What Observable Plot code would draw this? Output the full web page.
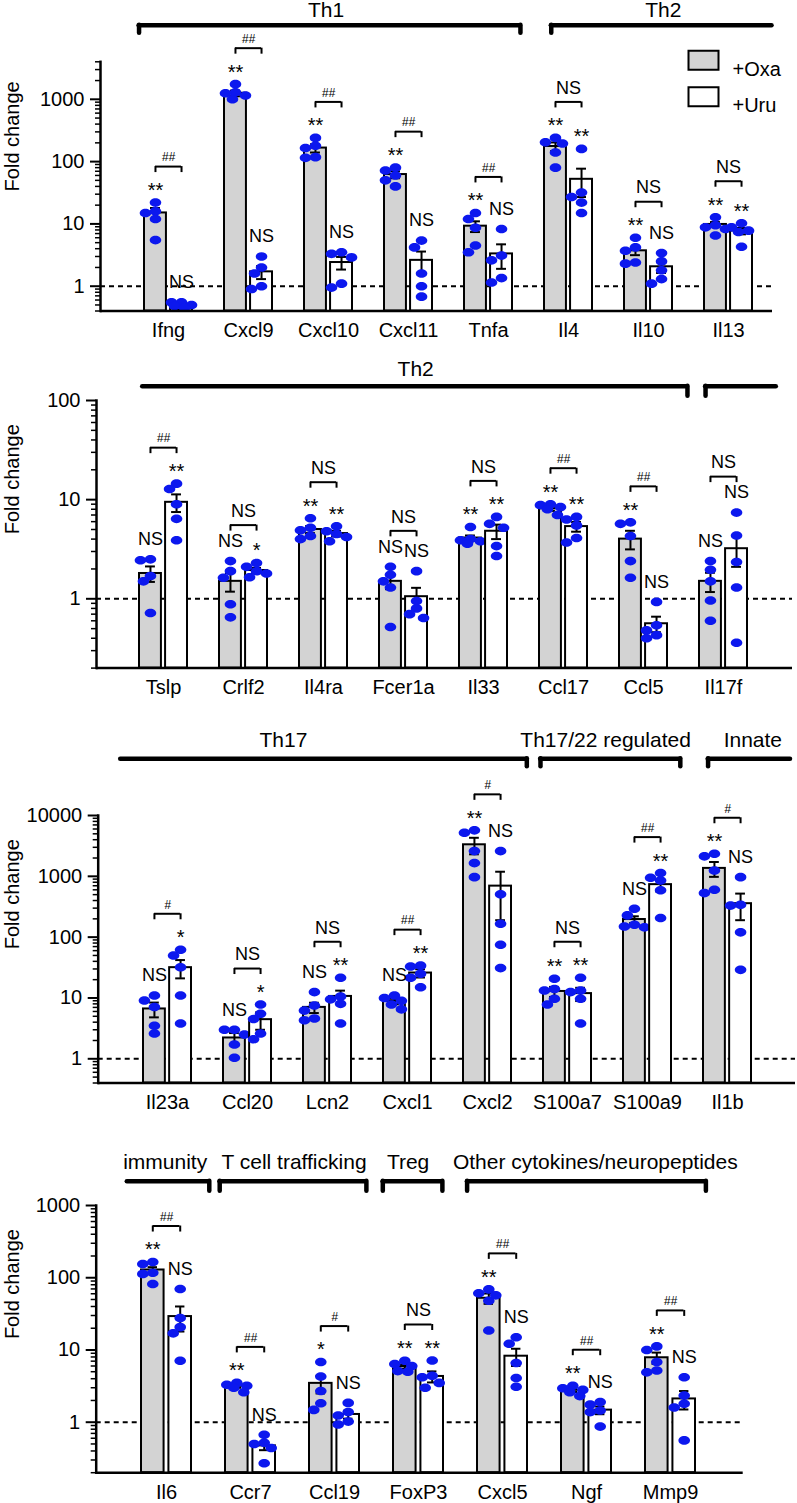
<!DOCTYPE html>
<html><head><meta charset="utf-8">
<script src="https://cdn.jsdelivr.net/npm/d3@7"></script>
<script src="https://cdn.jsdelivr.net/npm/@observablehq/plot@0.6"></script>
<style>
body{margin:0;background:#fff;}
#chart{width:797px;}
#chart svg{display:block;}
</style></head><body><div id="chart"></div>
<script>
// ---------------- Panel 1 ----------------
const genes1 = ["Ifng","Cxcl9","Cxcl10","Cxcl11","Tnfa","Il4","Il10","Il13"];
const oxaMean1 = [15, 1250, 165, 62, 9.2, 175, 3.7, 9.8];
const oxaSem1 = [3, 130, 25, 8, 1.8, 28, 0.55, 0.9];
const uruMean1 = [0.46, 1.7, 2.4, 2.6, 3.3, 52, 2.05, 7.7];
const uruSem1 = [0.04, 0.4, 0.55, 1.0, 1.4, 25, 0.42, 0.9];
const oxaDots1 = [[22,16,15,12,5.5],[1750,1300,1250,1150,1000],[240,180,165,118,115],[80,72,60,50,40],[15,12,8.7,4.5,3.5],[240,205,195,140,80],[6.0,4.2,3.7,2.4,2.3],[12.8,9.5,8.8,8.3,6.5]];
const uruDots1 = [[0.55,0.55,0.5,0.48,0.45],[3.0,2.0,1.6,1.0,0.9],[3.5,3.3,2.9,1.1,0.95],[5.4,4.2,1.6,1.0,0.68],[8.3,3.1,2.6,1.35,1.15],[160,32,27,22,15],[3.4,2.5,1.8,1.3,1.1],[10.2,8.8,7.8,7.4,4.3]];
const oxaSig1 = ["**","**","**","**","**","**","**","**"];
const uruSig1 = ["NS","NS","NS","NS","NS","**","NS","**"];
const pairSig1 = ["##","##","##","##","##","NS","NS","NS"];
const headers1 = [{label:"Th1", from:"Ifng", to:"Tnfa"},{label:"Th2", from:"Il4", to:"Il13"}];

// ---------------- Panel 2 ----------------
const genes2 = ["Tslp","Crlf2","Il4ra","Fcer1a","Il33","Ccl17","Ccl5","Il17f"];
const oxaMean2 = [1.8, 1.5, 5.0, 1.5, 4.1, 8.1, 4.0, 1.5];
const oxaSem2 = [0.32, 0.32, 0.4, 0.25, 0.25, 0.4, 0.85, 0.33];
const uruMean2 = [9.4, 1.93, 4.55, 1.05, 4.8, 5.35, 0.56, 3.2];
const uruSem2 = [1.9, 0.12, 0.3, 0.24, 0.8, 0.6, 0.1, 1.1];
const oxaDots2 = [[2.5,2.45,1.7,1.5,0.72],[2.4,1.9,1.63,0.88,0.65],[6.5,5.2,4.9,4.3,4.0],[2.1,1.75,1.5,1.3,0.52],[5.3,4.0,3.9,3.8,3.6],[9.0,8.8,8.4,8.0,7.0],[5.9,5.7,4.3,2.4,1.63],[2.4,1.96,1.5,0.96,0.6]];
const uruDots2 = [[14.5,12.8,9.0,6.4,3.9],[2.3,2.1,1.9,1.8,1.65],[5.4,4.8,4.5,4.2,3.8],[1.9,0.95,0.8,0.7,0.64],[6.7,5.7,5.2,3.4,2.7],[6.7,6.3,5.5,4.1,3.7],[0.93,0.54,0.48,0.43,0.4],[7.4,4.35,2.35,1.3,0.36]];
const oxaSig2 = ["NS","NS","**","NS","**","**","**","NS"];
const uruSig2 = ["**","*","**","NS","**","**","NS","NS"];
const pairSig2 = ["##","NS","NS","NS","NS","##","##","NS"];
const headers2 = [{label:"Th2", from:"Tslp", to:"Ccl5"},{label:"", from:"Il17f", to:"Il17f"}];

// ---------------- Panel 3 ----------------
const genes3 = ["Il23a","Ccl20","Lcn2","Cxcl1","Cxcl2","S100a7","S100a9","Il1b"];
const oxaMean3 = [6.6, 2.2, 7.0, 8.8, 3300, 12.8, 195, 1350];
const oxaSem3 = [1.8, 0.45, 1.35, 0.9, 1000, 2.4, 25, 370];
const uruMean3 = [31.5, 4.4, 10.6, 25.7, 690, 11.8, 730, 355];
const uruSem3 = [10.5, 1.4, 2.6, 4, 500, 2.9, 165, 165];
const oxaDots3 = [[11,9.1,7.1,3.5,2.6],[3.0,3.0,2.5,1.72,1.04],[12.5,7.5,6.2,4.6,4.3],[11,10,9,7.8,6.5],[5700,5200,2600,1650,970],[20.7,14,13.3,9.7,7.8],[293,228,160,150,145],[2350,2130,1250,600,530]];
const uruDots3 = [[62,50,32,11,3.8],[7.8,5.5,4.5,2.6,2.1],[21.5,10.6,9.5,8.0,3.8],[34,33,25,21.5,15],[2600,505,166,75,31],[21.5,13.3,12.5,9.7,3.8],[1130,950,850,590,206],[970,340,330,120,29]];
const oxaSig3 = ["NS","NS","NS","NS","**","**","NS","**"];
const uruSig3 = ["*","*","**","**","NS","**","**","NS"];
const pairSig3 = ["#","NS","NS","##","#","NS","##","#"];
const headers3 = [{label:"Th17", from:"Il23a", to:"Cxcl2"},{label:"Th17/22 regulated", from:"S100a7", to:"S100a9"},{label:"Innate", from:"Il1b", to:"Il1b"}];

// ---------------- Panel 4 ----------------
const genes4 = ["Il6","Ccr7","Ccl19","FoxP3","Cxcl5","Ngf","Mmp9"];
const oxaMean4 = [128, 3.15, 3.45, 5.9, 52, 2.77, 7.8];
const oxaSem4 = [12, 0.15, 0.95, 0.4, 8.5, 0.15, 1.4];
const uruMean4 = [29, 0.47, 1.28, 4.3, 8.2, 1.47, 2.1];
const uruSem4 = [11, 0.06, 0.16, 0.75, 2.2, 0.18, 0.6];
const oxaDots4 = [[165,155,117,113,82],[3.5,3.3,3.2,3.0,2.6],[6.8,4.3,2.7,1.83,1.48],[7.1,6.4,6.0,5.1,5.0],[69,61,57,48,18.6],[3.2,2.95,2.8,2.6,2.3],[11.2,10,6.8,5.2,4.9]];
const uruDots4 = [[70,27.6,20.7,17,7.1],[0.67,0.52,0.5,0.44,0.27],[1.85,1.38,1.24,1.02,0.93],[7.15,4.4,4.2,3.5,3.0],[15,12.2,6.6,4.1,3.1],[1.9,1.75,1.45,1.38,0.87],[4.2,2.34,1.8,1.6,0.56]];
const oxaSig4 = ["**","**","*","**","**","**","**"];
const uruSig4 = ["NS","NS","NS","**","NS","NS","NS"];
const pairSig4 = ["##","##","#","NS","##","##","##"];
const headers4 = [{label:"immunity", from:"Il6", to:"Il6"},{label:"T cell trafficking", from:"Ccr7", to:"Ccl19"},{label:"Treg", from:"FoxP3", to:"FoxP3"},{label:"Other cytokines/neuropeptides", from:"Cxcl5", to:"Mmp9"}];

const legendLabels = ["+Oxa", "+Uru"];
const yLabel = "Fold change";

// ---------------- layout / style ----------------
const FONT = "'Liberation Sans', Arial, Helvetica, sans-serif";
const BLUE = "#0c18ee";
const GREY = "#d3d3d3";

const layouts = [
  {height:345, marginTop:61.3, marginBottom:34.5, marginLeft:100, marginRight:25, xRange:[127.4,768.6], yDomain:[0.4,4000],
   headLineDy:-36.6, headTextDy:-51.5, headTick:8, labelDy:5,
   heads:[{extL:5.4, extR:7.9, tickL:true, tickR:true, shift:-4},{extL:-6.8, extR:19.5, tickL:true, tickR:false, shift:1.5}]},
  {height:360, marginTop:55, marginBottom:37.4, marginLeft:96, marginRight:5, xRange:[122.4,764.0], yDomain:[0.2,100],
   headLineDy:-14.3, headTextDy:-31, headTick:10, labelDy:0,
   heads:[{extL:-3.2, extR:19.9, tickL:false, tickR:true, shift:0},{extL:-6.1, extR:28.8, tickL:true, tickR:false, shift:0}]},
  {height:410, marginTop:110, marginBottom:32.5, marginLeft:97.7, marginRight:2, xRange:[125.6,768.7], yDomain:[0.4,10000],
   headLineDy:-56.7, headTextDy:-75, headTick:8, labelDy:0,
   heads:[{extL:22.8, extR:15.2, tickL:false, tickR:true, shift:-41},{extL:2.9, extR:8.7, tickL:true, tickR:true, shift:-5},{extL:-4.7, extR:39, tickL:true, tickR:false, shift:3.5}]},
  {height:388, marginTop:90, marginBottom:30.8, marginLeft:95.7, marginRight:54.3, xRange:[123.3,713.5], yDomain:[0.2,1000],
   headLineDy:-24.3, headTextDy:-43.3, headTick:10, labelDy:0,
   heads:[{extL:14.2, extR:17.5, tickL:false, tickR:true, shift:-3},{extL:5.5, extR:6.6, tickL:true, tickR:true, shift:0.8},{extL:10.4, extR:-1.4, tickL:true, tickR:true, shift:-4.5},{extL:10.1, extR:10.1, tickL:true, tickR:true, shift:8.5}]}
];

const panels = [
  {genes:genes1, oxaMean:oxaMean1, oxaSem:oxaSem1, uruMean:uruMean1, uruSem:uruSem1, oxaDots:oxaDots1, uruDots:uruDots1, oxaSig:oxaSig1, uruSig:uruSig1, pairSig:pairSig1, headers:headers1, legend:true},
  {genes:genes2, oxaMean:oxaMean2, oxaSem:oxaSem2, uruMean:uruMean2, uruSem:uruSem2, oxaDots:oxaDots2, uruDots:uruDots2, oxaSig:oxaSig2, uruSig:uruSig2, pairSig:pairSig2, headers:headers2},
  {genes:genes3, oxaMean:oxaMean3, oxaSem:oxaSem3, uruMean:uruMean3, uruSem:uruSem3, oxaDots:oxaDots3, uruDots:uruDots3, oxaSig:oxaSig3, uruSig:uruSig3, pairSig:pairSig3, headers:headers3},
  {genes:genes4, oxaMean:oxaMean4, oxaSem:oxaSem4, uruMean:uruMean4, uruSem:uruSem4, oxaDots:oxaDots4, uruDots:uruDots4, oxaSig:oxaSig4, uruSig:uruSig4, pairSig:pairSig4, headers:headers4}
];

// custom symbols
const RX = 5.8, RY = 4.3;
const ellipseSym = {draw(ctx) {
  const k = 0.5523;
  ctx.moveTo(RX, 0);
  ctx.bezierCurveTo(RX, RY*k, RX*k, RY, 0, RY);
  ctx.bezierCurveTo(-RX*k, RY, -RX, RY*k, -RX, 0);
  ctx.bezierCurveTo(-RX, -RY*k, -RX*k, -RY, 0, -RY);
  ctx.bezierCurveTo(RX*k, -RY, RX, -RY*k, RX, 0);
  ctx.closePath();
}};
const rectSym = {draw(ctx) { ctx.rect(-15, -9.5, 30, 19); }};

// deterministic scatter spreading (avoid stacking of dots)
function spreadDots(vals, pxd) {
  const sorted = vals.slice().sort((a, b) => b - a);
  const placed = [];
  const cands = [0, -7, 7, -10, 10, -3, 3];
  for (const v of sorted) {
    const py = -Math.log10(v) * pxd;
    let best = 0, bestScore = -Infinity;
    for (const c of cands) {
      let m = Infinity;
      for (const q of placed) m = Math.min(m, Math.hypot((c - q.j) / (2*RX), (py - q.py) / (2*RY)));
      if (m >= 0.85) { best = c; bestScore = m; break; }
      if (m > bestScore) { bestScore = m; best = c; }
    }
    placed.push({v, j: best, py});
  }
  return placed;
}

function minorTicks(domain) {
  const out = [];
  for (let e = -2; e <= 5; e++) for (let m = 1; m <= 9; m++) {
    const v = m * Math.pow(10, e);
    if (m !== 1 && v >= domain[0] - 1e-9 && v <= domain[1] + 1e-9) out.push(v);
  }
  return out;
}
function majorTicks(domain) {
  const out = [];
  for (let e = -2; e <= 5; e++) { const v = Math.pow(10, e); if (v >= domain[0] && v <= domain[1]) out.push(v); }
  return out;
}

function makePanel(P, L) {
  const n = P.genes.length;
  const step = (L.xRange[1] - L.xRange[0]) / n;
  const bw = step * 0.6, barW = bw * 0.458, off = (bw - barW) / 2;
  const innerH = L.height - L.marginTop - L.marginBottom;
  const pxd = innerH / (Math.log10(L.yDomain[1]) - Math.log10(L.yDomain[0]));
  const yMin = L.yDomain[0], yMax = L.yDomain[1];
  const capHalf = 5;
  const groups = [
    {mean:P.oxaMean, sem:P.oxaSem, dots:P.oxaDots, sig:P.oxaSig, fill:GREY, dx:-off, insL:0, insR:bw-barW, cen:barW/2},
    {mean:P.uruMean, sem:P.uruSem, dots:P.uruDots, sig:P.uruSig, fill:"white", dx:off, insL:bw-barW, insR:0, cen:bw-barW/2}
  ];
  const marks = [];
  marks.push(Plot.ruleY([1], {stroke:"black", strokeWidth:2, strokeDasharray:"5,4"}));
  const tops = P.genes.map(() => 0);
  const labelMarks = [];
  for (const g of groups) {
    const rows = P.genes.map((gene, i) => {
      const lo = Math.max(g.mean[i] - g.sem[i], yMin), hi = g.mean[i] + g.sem[i];
      const top = Math.max(hi, ...g.dots[i]);
      tops[i] = Math.max(tops[i], top);
      return {gene, mean:g.mean[i], lo, hi, top, sig:g.sig[i]};
    });
    marks.push(Plot.barY(rows, {x:"gene", y1:() => yMin, y2:"mean", fill:g.fill, stroke:"black", strokeWidth:2, insetLeft:g.insL, insetRight:g.insR}));
    marks.push(Plot.ruleX(rows, {x:"gene", y1:"lo", y2:"hi", dx:g.dx, stroke:"black", strokeWidth:2}));
    for (const k of ["lo","hi"]) {
      marks.push(Plot.tickY(rows, {x:"gene", y:k, insetLeft:g.cen - capHalf, insetRight:bw - g.cen - capHalf, stroke:"black", strokeWidth:2}));
    }
    // dots
    const dotRows = [];
    P.genes.forEach((gene, i) => {
      for (const d of spreadDots(g.dots[i], pxd)) dotRows.push({gene, v:d.v, j:d.j});
    });
    for (const j of Array.from(new Set(dotRows.map(d => d.j)))) {
      marks.push(Plot.dot(dotRows.filter(d => d.j === j), {x:"gene", y:"v", dx:g.dx + j, symbol:ellipseSym, r:4, fill:BLUE}));
    }
    labelMarks.push(Plot.text(rows.filter(r => r.sig.startsWith("*")), {x:"gene", y:"top", text:"sig", dx:g.dx, dy:-12, fontSize:20}));
    labelMarks.push(Plot.text(rows.filter(r => r.sig === "NS"), {x:"gene", y:"top", text:"sig", dx:g.dx, dy:-20, fontSize:18}));
  }
  marks.push(...labelMarks);

  // comparison brackets
  const bDy = -36;
  const pairs = P.genes.map((gene, i) => ({gene, top:tops[i], sig:P.pairSig[i]}));
  marks.push(Plot.tickY(pairs, {x:"gene", y:"top", dy:bDy, insetLeft:barW/2, insetRight:barW/2, stroke:"black", strokeWidth:2}));
  for (const s of [-off, off]) {
    marks.push(Plot.ruleX(pairs, {x:"gene", y1:"top", y2:"top", dx:s, dy:bDy, insetBottom:-6, stroke:"black", strokeWidth:2}));
  }
  marks.push(Plot.text(pairs.filter(p => p.sig.startsWith("#")), {x:"gene", y:"top", text:"sig", dy:bDy - 9, fontSize:12, fontStyle:"italic"}));
  marks.push(Plot.text(pairs.filter(p => p.sig === "NS"), {x:"gene", y:"top", text:"sig", dy:bDy - 14, fontSize:18}));

  // group headers
  P.headers.forEach((h, k) => {
    const H = L.heads[k];
    const i1 = P.genes.indexOf(h.from), i2 = P.genes.indexOf(h.to);
    marks.push(Plot.ruleY([h], {x1:"from", x2:"to", y:() => yMax, dy:L.headLineDy, insetLeft:-H.extL, insetRight:-H.extR, stroke:"black", strokeWidth:4.5, strokeLinecap:"round"}));
    if (H.tickL) marks.push(Plot.ruleX([h], {x:"from", y1:() => yMax, y2:() => yMax, dx:-(bw/2 + H.extL), dy:L.headLineDy, insetBottom:-L.headTick, stroke:"black", strokeWidth:4.5, strokeLinecap:"round"}));
    if (H.tickR) marks.push(Plot.ruleX([h], {x:"to", y1:() => yMax, y2:() => yMax, dx:(bw/2 + H.extR), dy:L.headLineDy, insetBottom:-L.headTick, stroke:"black", strokeWidth:4.5, strokeLinecap:"round"}));
    if (h.label) marks.push(Plot.text([h], {x:"from", y:() => yMax, text:"label", dx:((i2 - i1) * step + H.extR - H.extL) / 2 + H.shift, dy:L.headTextDy, fontSize:21}));
  });

  // axes
  marks.push(Plot.axisY({ticks:minorTicks(L.yDomain), tickSize:5, tickFormat:() => "", strokeWidth:1.5, label:null}));
  marks.push(Plot.axisY({ticks:majorTicks(L.yDomain), tickSize:10, tickPadding:6, tickFormat:d => String(d), fontSize:20, strokeWidth:2, label:null}));
  marks.push(Plot.axisX({tickSize:0, tickPadding:12, fontSize:20, label:null}));
  marks.push(Plot.frame({anchor:"left", strokeWidth:2.5}));
  marks.push(Plot.ruleY([yMin], {stroke:"black", strokeWidth:2.5}));
  marks.push(Plot.text([yLabel], {frameAnchor:"left", text:d => d, dx:-(L.marginLeft - 12), dy:L.labelDy, rotate:-90, fontSize:20}));

  if (P.legend) {
    const fills = [GREY, "white"];
    legendLabels.forEach((lab, k) => {
      marks.push(Plot.dot([lab], {frameAnchor:"top-right", dx:-69, dy:-1.5 + k*36.5, symbol:rectSym, r:4, fill:fills[k], stroke:"black", strokeWidth:2}));
      marks.push(Plot.text([lab], {frameAnchor:"top-right", text:d => d, dx:-40, dy:-0.5 + k*36.5, textAnchor:"start", fontSize:20}));
    });
  }

  return Plot.plot({
    width:797, height:L.height,
    marginTop:L.marginTop, marginBottom:L.marginBottom, marginLeft:L.marginLeft, marginRight:L.marginRight,
    style:{fontFamily:FONT, background:"white", color:"black", overflow:"visible"},
    x:{domain:P.genes, range:L.xRange, paddingInner:0.4, paddingOuter:0.2, align:0.5},
    y:{type:"log", domain:L.yDomain},
    marks
  });
}

const chart = document.getElementById("chart");
panels.forEach((P, i) => chart.appendChild(makePanel(P, layouts[i])));
</script></body></html>
